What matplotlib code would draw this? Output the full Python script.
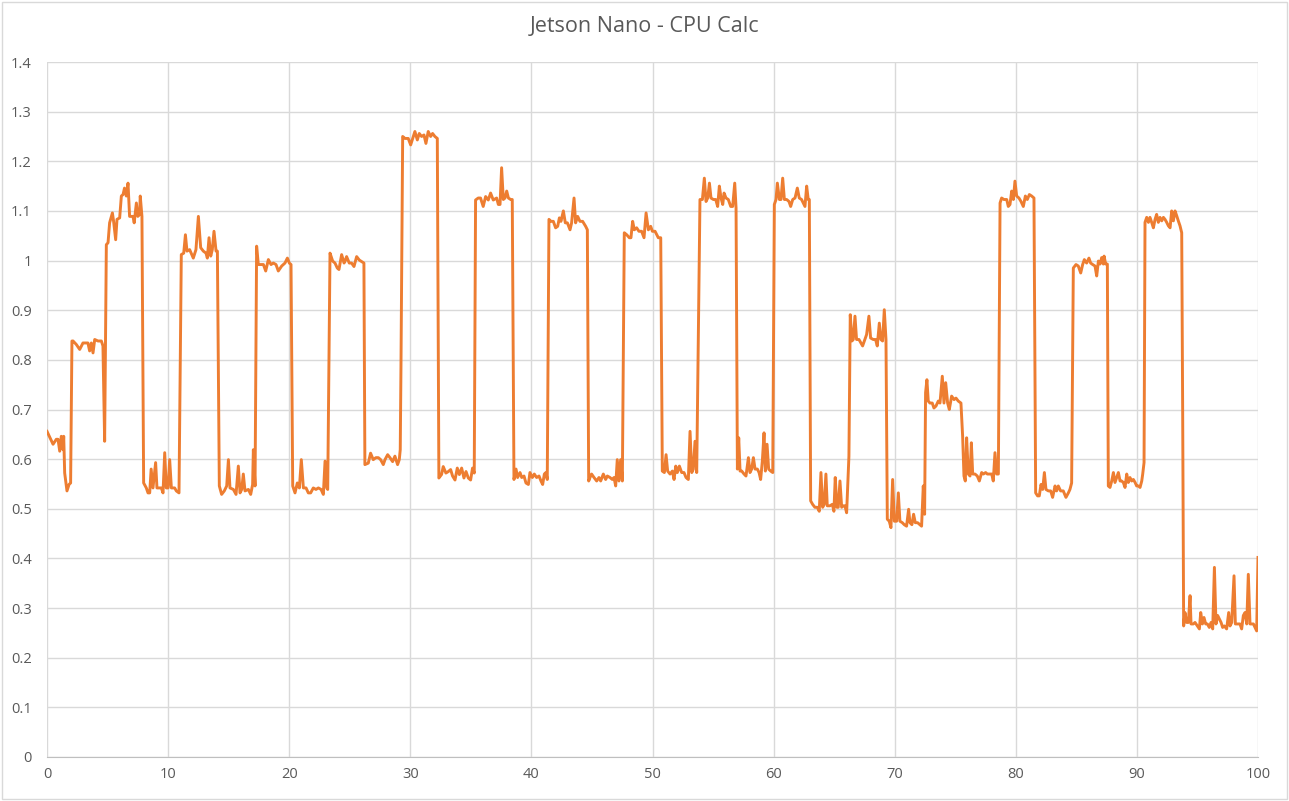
import matplotlib.pyplot as plt
from matplotlib.patches import Rectangle

# Jetson Nano - CPU Calc

t = [
    0.00, 0.50, 0.77, 0.91, 1.05, 1.18, 1.32, 1.38, 1.46, 1.65,
    1.82, 1.95, 2.06, 2.15, 2.42, 2.70, 2.97, 3.38, 3.52, 3.66,
    3.80, 3.94, 4.21, 4.49, 4.62, 4.76, 4.90, 5.04, 5.17, 5.40,
    5.50, 5.67, 5.78, 6.00, 6.14, 6.28, 6.40, 6.55, 6.69, 6.82,
    7.10, 7.20, 7.38, 7.50, 7.65, 7.70, 7.84, 7.98, 8.20, 8.34,
    8.48, 8.60, 8.75, 8.97, 9.08, 9.44, 9.58, 9.72, 9.85, 10.00,
    10.13, 10.27, 10.54, 10.68, 10.90, 11.09, 11.29, 11.43, 11.56, 11.78,
    12.08, 12.30, 12.50, 12.69, 12.91, 13.13, 13.24, 13.38, 13.52, 13.65,
    13.79, 13.96, 14.07, 14.23, 14.42, 14.64, 14.84, 14.98, 15.11, 15.39,
    15.61, 15.80, 15.94, 16.08, 16.21, 16.35, 16.63, 16.82, 16.98, 17.04,
    17.18, 17.31, 17.45, 17.65, 17.87, 18.06, 18.28, 18.50, 18.69, 18.91,
    19.10, 19.38, 19.65, 19.85, 20.01, 20.15, 20.29, 20.48, 20.67, 20.84,
    21.00, 21.17, 21.39, 21.58, 21.77, 21.99, 22.21, 22.41, 22.63, 22.82,
    22.96, 23.10, 23.18, 23.37, 23.59, 23.78, 23.97, 24.11, 24.33, 24.53,
    24.60, 24.74, 24.96, 25.15, 25.35, 25.57, 25.79, 25.98, 26.17, 26.25,
    26.53, 26.72, 26.94, 27.16, 27.36, 27.55, 27.77, 27.91, 28.13, 28.32,
    28.54, 28.73, 28.95, 29.09, 29.17, 29.23, 29.37, 29.56, 29.83, 30.03,
    30.25, 30.38, 30.58, 30.74, 30.93, 31.13, 31.29, 31.48, 31.68, 31.84,
    32.03, 32.23, 32.36, 32.58, 32.72, 32.94, 33.14, 33.33, 33.49, 33.69,
    33.88, 34.05, 34.24, 34.43, 34.60, 34.79, 34.98, 35.14, 35.28, 35.39,
    35.61, 35.80, 36.02, 36.22, 36.44, 36.63, 36.85, 37.13, 37.27, 37.41,
    37.54, 37.68, 37.82, 37.96, 38.10, 38.29, 38.42, 38.56, 38.73, 38.86,
    39.06, 39.20, 39.39, 39.55, 39.75, 39.88, 40.08, 40.24, 40.43, 40.63,
    40.79, 40.93, 41.07, 41.20, 41.31, 41.45, 41.62, 41.81, 42.00, 42.17,
    42.31, 42.44, 42.64, 42.80, 42.97, 43.19, 43.32, 43.52, 43.65, 43.82,
    44.01, 44.23, 44.48, 44.62, 44.73, 44.84, 44.97, 45.17, 45.39, 45.58,
    45.72, 45.94, 46.13, 46.27, 46.49, 46.68, 46.82, 46.96, 47.09, 47.23,
    47.37, 47.51, 47.67, 47.87, 48.09, 48.22, 48.36, 48.50, 48.69, 48.88,
    49.10, 49.30, 49.47, 49.66, 49.85, 49.99, 50.21, 50.48, 50.68, 50.81,
    50.98, 51.12, 51.25, 51.45, 51.64, 51.78, 51.92, 52.05, 52.22, 52.41,
    52.60, 52.77, 52.96, 53.10, 53.24, 53.37, 53.51, 53.65, 53.87, 53.92,
    54.12, 54.28, 54.42, 54.56, 54.70, 54.83, 55.03, 55.22, 55.38, 55.52,
    55.66, 55.80, 55.91, 56.07, 56.26, 56.46, 56.62, 56.79, 56.90, 57.01,
    57.12, 57.23, 57.37, 57.56, 57.72, 57.92, 58.05, 58.19, 58.33, 58.47,
    58.66, 58.80, 58.93, 59.07, 59.21, 59.32, 59.46, 59.59, 59.76, 59.93,
    60.06, 60.20, 60.31, 60.48, 60.61, 60.75, 60.89, 61.08, 61.27, 61.41,
    61.58, 61.77, 61.96, 62.12, 62.31, 62.51, 62.59, 62.73, 62.86, 62.95,
    63.06, 63.22, 63.41, 63.61, 63.77, 63.91, 64.05, 64.18, 64.32, 64.43,
    64.65, 64.85, 64.98, 65.09, 65.23, 65.34, 65.48, 65.62, 65.75, 65.89,
    66.03, 66.22, 66.33, 66.47, 66.58, 66.72, 66.85, 67.05, 67.21, 67.35,
    67.49, 67.68, 67.87, 68.01, 68.23, 68.42, 68.56, 68.73, 68.86, 69.00,
    69.14, 69.28, 69.39, 69.55, 69.69, 69.83, 69.97, 70.16, 70.30, 70.43,
    70.63, 70.79, 70.98, 71.15, 71.26, 71.42, 71.56, 71.70, 71.89, 72.08,
    72.22, 72.36, 72.47, 72.55, 72.66, 72.77, 72.91, 73.10, 73.24, 73.41,
    73.60, 73.74, 73.93, 74.07, 74.21, 74.37, 74.51, 74.70, 74.90, 75.06,
    75.25, 75.47, 75.61, 75.72, 75.83, 75.94, 76.08, 76.22, 76.33, 76.44,
    76.63, 76.82, 76.99, 77.18, 77.32, 77.51, 77.65, 77.81, 78.01, 78.14,
    78.28, 78.42, 78.56, 78.70, 78.83, 79.02, 79.25, 79.38, 79.52, 79.66,
    79.80, 79.93, 80.07, 80.26, 80.43, 80.62, 80.79, 80.95, 81.12, 81.31,
    81.50, 81.64, 81.80, 81.94, 82.08, 82.22, 82.36, 82.49, 82.69, 82.88,
    83.04, 83.24, 83.37, 83.51, 83.70, 83.92, 84.14, 84.34, 84.47, 84.61,
    84.75, 84.97, 85.16, 85.36, 85.52, 85.66, 85.85, 86.04, 86.18, 86.35,
    86.54, 86.68, 86.82, 86.96, 87.09, 87.23, 87.29, 87.42, 87.56, 87.64,
    87.78, 87.92, 88.06, 88.19, 88.33, 88.47, 88.61, 88.74, 88.88, 89.02,
    89.16, 89.29, 89.43, 89.57, 89.71, 89.85, 89.98, 90.12, 90.26, 90.40,
    90.48, 90.59, 90.67, 90.81, 90.95, 91.08, 91.22, 91.36, 91.50, 91.63,
    91.77, 91.91, 92.05, 92.19, 92.32, 92.46, 92.60, 92.74, 92.87, 93.01,
    93.15, 93.29, 93.42, 93.56, 93.70, 93.78, 93.86, 93.97, 94.11, 94.25,
    94.39, 94.47, 94.66, 94.80, 94.99, 95.16, 95.27, 95.41, 95.54, 95.68,
    95.82, 95.98, 96.12, 96.26, 96.40, 96.53, 96.67, 96.81, 96.95, 97.08,
    97.22, 97.41, 97.58, 97.69, 97.83, 98.02, 98.13, 98.32, 98.51, 98.65,
    98.79, 98.93, 99.07, 99.20, 99.34, 99.48, 99.62, 99.76, 99.89, 100.00,
]

cpu = [
    0.656, 0.630, 0.640, 0.640, 0.616, 0.646, 0.619, 0.646, 0.572, 0.536,
    0.549, 0.552, 0.838, 0.838, 0.831, 0.821, 0.834, 0.834, 0.818, 0.834,
    0.814, 0.841, 0.838, 0.838, 0.828, 0.636, 1.032, 1.036, 1.076, 1.096,
    1.079, 1.042, 1.083, 1.086, 1.130, 1.133, 1.146, 1.130, 1.156, 1.089,
    1.089, 1.076, 1.116, 1.089, 1.093, 1.130, 1.089, 0.552, 0.542, 0.532,
    0.532, 0.580, 0.542, 0.593, 0.542, 0.542, 0.532, 0.613, 0.542, 0.542,
    0.599, 0.542, 0.542, 0.536, 0.532, 1.012, 1.015, 1.052, 1.019, 1.022,
    1.005, 1.022, 1.089, 1.026, 1.019, 1.015, 1.005, 1.046, 1.009, 1.022,
    1.059, 1.019, 1.019, 0.546, 0.529, 0.536, 0.546, 0.599, 0.542, 0.539,
    0.529, 0.586, 0.532, 0.539, 0.570, 0.536, 0.539, 0.529, 0.549, 0.619,
    0.546, 1.029, 0.992, 0.992, 0.992, 0.979, 1.002, 0.992, 0.995, 0.992,
    0.979, 0.989, 0.995, 1.005, 0.995, 0.992, 0.546, 0.532, 0.552, 0.542,
    0.599, 0.542, 0.542, 0.532, 0.532, 0.542, 0.539, 0.542, 0.539, 0.529,
    0.596, 0.542, 0.539, 1.015, 0.999, 0.995, 0.985, 0.982, 1.012, 0.995,
    0.998, 1.008, 0.995, 0.995, 0.988, 1.008, 1.001, 0.998, 0.995, 0.589,
    0.592, 0.612, 0.599, 0.603, 0.603, 0.599, 0.589, 0.599, 0.609, 0.603,
    0.595, 0.606, 0.589, 0.599, 0.619, 0.787, 1.250, 1.246, 1.246, 1.233,
    1.250, 1.260, 1.243, 1.256, 1.250, 1.253, 1.236, 1.260, 1.250, 1.256,
    1.250, 1.246, 0.562, 0.569, 0.585, 0.572, 0.575, 0.579, 0.566, 0.558,
    0.582, 0.569, 0.582, 0.562, 0.575, 0.562, 0.558, 0.582, 0.572, 1.122,
    1.126, 1.126, 1.109, 1.129, 1.122, 1.136, 1.122, 1.126, 1.113, 1.113,
    1.187, 1.123, 1.126, 1.140, 1.126, 1.123, 1.123, 0.559, 0.580, 0.563,
    0.573, 0.563, 0.566, 0.552, 0.549, 0.573, 0.563, 0.570, 0.563, 0.566,
    0.556, 0.549, 0.570, 0.573, 0.559, 1.083, 1.079, 1.079, 1.066, 1.069,
    1.086, 1.079, 1.100, 1.076, 1.076, 1.062, 1.076, 1.126, 1.076, 1.089,
    1.079, 1.079, 1.069, 1.062, 0.556, 0.563, 0.570, 0.563, 0.556, 0.563,
    0.556, 0.570, 0.559, 0.566, 0.563, 0.559, 0.563, 0.546, 0.599, 0.556,
    0.599, 0.556, 1.056, 1.052, 1.046, 1.046, 1.079, 1.062, 1.066, 1.059,
    1.059, 1.046, 1.096, 1.062, 1.069, 1.059, 1.059, 1.046, 1.046, 0.576,
    0.573, 0.609, 0.576, 0.570, 0.576, 0.559, 0.586, 0.573, 0.586, 0.573,
    0.573, 0.563, 0.559, 0.656, 0.573, 0.580, 0.636, 0.573, 1.022, 1.123,
    1.123, 1.166, 1.119, 1.126, 1.156, 1.126, 1.123, 1.123, 1.109, 1.150,
    1.126, 1.113, 1.136, 1.126, 1.123, 1.109, 1.109, 1.156, 1.106, 0.580,
    0.643, 0.576, 0.576, 0.570, 0.566, 0.603, 0.573, 0.580, 0.603, 0.580,
    0.580, 0.573, 0.559, 0.596, 0.653, 0.576, 0.630, 0.580, 0.576, 0.573,
    1.113, 1.123, 1.156, 1.123, 1.123, 1.166, 1.123, 1.123, 1.119, 1.109,
    1.123, 1.126, 1.146, 1.126, 1.123, 1.113, 1.109, 1.150, 1.123, 1.123,
    0.516, 0.509, 0.503, 0.503, 0.495, 0.573, 0.503, 0.509, 0.570, 0.506,
    0.506, 0.509, 0.495, 0.563, 0.503, 0.503, 0.556, 0.503, 0.506, 0.506,
    0.492, 0.606, 0.891, 0.838, 0.841, 0.888, 0.841, 0.841, 0.834, 0.828,
    0.838, 0.851, 0.888, 0.844, 0.841, 0.841, 0.828, 0.874, 0.841, 0.838,
    0.901, 0.841, 0.479, 0.475, 0.462, 0.559, 0.475, 0.475, 0.532, 0.475,
    0.472, 0.468, 0.465, 0.499, 0.472, 0.468, 0.489, 0.472, 0.472, 0.468,
    0.465, 0.546, 0.489, 0.734, 0.760, 0.717, 0.713, 0.713, 0.703, 0.707,
    0.717, 0.713, 0.767, 0.713, 0.754, 0.713, 0.700, 0.727, 0.720, 0.723,
    0.717, 0.713, 0.646, 0.566, 0.556, 0.643, 0.570, 0.566, 0.633, 0.570,
    0.570, 0.566, 0.556, 0.573, 0.570, 0.573, 0.570, 0.570, 0.570, 0.556,
    0.613, 0.570, 0.570, 1.116, 1.126, 1.123, 1.123, 1.109, 1.113, 1.140,
    1.123, 1.160, 1.130, 1.126, 1.119, 1.109, 1.130, 1.123, 1.133, 1.130,
    1.126, 0.532, 0.526, 0.526, 0.549, 0.539, 0.573, 0.539, 0.536, 0.536,
    0.523, 0.546, 0.536, 0.546, 0.536, 0.536, 0.523, 0.532, 0.539, 0.552,
    0.985, 0.992, 0.989, 0.975, 0.992, 1.002, 0.995, 1.005, 0.995, 0.992,
    0.989, 0.969, 0.999, 0.993, 1.006, 0.993, 1.009, 0.993, 0.993, 0.546,
    0.543, 0.556, 0.573, 0.553, 0.563, 0.573, 0.556, 0.556, 0.553, 0.543,
    0.570, 0.553, 0.563, 0.556, 0.559, 0.553, 0.546, 0.546, 0.543, 0.556,
    0.570, 0.593, 1.077, 1.087, 1.077, 1.087, 1.077, 1.066, 1.083, 1.093,
    1.077, 1.087, 1.080, 1.087, 1.083, 1.077, 1.070, 1.066, 1.100, 1.080,
    1.100, 1.090, 1.080, 1.070, 1.056, 0.694, 0.264, 0.291, 0.271, 0.271,
    0.325, 0.268, 0.268, 0.271, 0.264, 0.258, 0.291, 0.268, 0.281, 0.268,
    0.268, 0.261, 0.271, 0.258, 0.382, 0.268, 0.285, 0.278, 0.271, 0.261,
    0.264, 0.258, 0.291, 0.264, 0.271, 0.365, 0.268, 0.268, 0.268, 0.258,
    0.285, 0.291, 0.268, 0.368, 0.268, 0.268, 0.268, 0.261, 0.254, 0.402,
]

x_ticks = list(range(0, 101, 10))
y_ticks = [i / 10 for i in range(15)]
y_labels = ["0", "0.1", "0.2", "0.3", "0.4", "0.5", "0.6", "0.7",
            "0.8", "0.9", "1", "1.1", "1.2", "1.3", "1.4"]

assert len(t) == len(cpu)

plt.rcParams["font.family"] = ["Open Sans", "DejaVu Sans"]
text_grey = "#595959"
grid_grey = "#D9D9D9"

fig = plt.figure(figsize=(12.89, 8.01), dpi=100)
ax = fig.add_axes([47 / 1289, 1 - 757 / 801, (1258 - 47) / 1289, (757 - 62) / 801])

ax.plot(t, cpu, color="#ED7D31", linewidth=2.1, solid_joinstyle="round")

ax.set_xlim(0, 100)
ax.set_ylim(0, 1.4)
ax.set_xticks(x_ticks)
ax.set_yticks(y_ticks)
ax.set_yticklabels(y_labels)
ax.grid(True, color=grid_grey, linewidth=1.0)
ax.set_axisbelow(True)
for side in ["top", "right", "left"]:
    ax.spines[side].set_visible(False)
ax.spines["bottom"].set_color("#BFBFBF")
ax.tick_params(axis="both", length=0, labelsize=10.5, labelcolor=text_grey)
ax.tick_params(axis="y", pad=11)
ax.tick_params(axis="x", pad=7)

fig.text(0.5, 1 - 27 / 801, "Jetson Nano - CPU Calc", ha="center", va="center",
         fontsize=15.5, color=text_grey)

# light chart border like the Excel chart area
fig.patches.append(Rectangle((0.0015, 0.002), 0.997, 0.996, transform=fig.transFigure,
                             fill=False, edgecolor=grid_grey, linewidth=1.0))

fig.savefig("out.png", dpi=100)
